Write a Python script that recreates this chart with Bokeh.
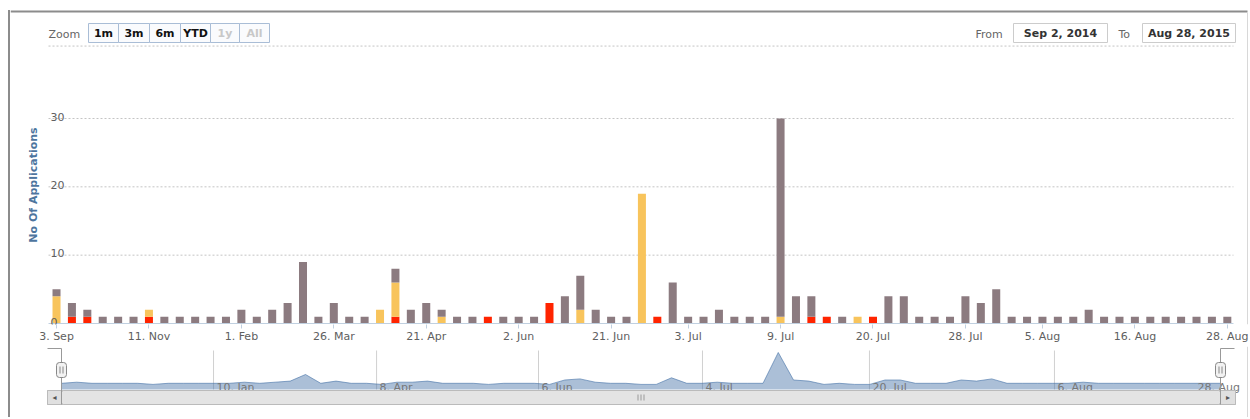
import math
from bokeh.plotting import figure
from bokeh.models import (ColumnDataSource, Range1d, FixedTicker, Label,
                          BoxAnnotation, Spacer, Div)
from bokeh.layouts import column, row
from bokeh.core.properties import value
from bokeh.embed import file_html
from bokeh.resources import INLINE

# ---------------- data ----------------
grey = [1, 2, 1, 1, 1, 1, 0, 1, 1, 1,
        1, 1, 2, 1, 2, 3, 9, 1, 3, 1,
        1, 0, 2, 2, 3, 1, 1, 1, 0, 1,
        1, 1, 0, 4, 5, 2, 1, 1, 0, 0,
        6, 1, 1, 2, 1, 1, 1, 29, 4, 3,
        0, 1, 0, 0, 4, 4, 1, 1, 1, 4,
        3, 5, 1, 1, 1, 1, 1, 2, 1, 1,
        1, 1, 1, 1, 1, 1, 1]
orange = [4, 0, 0, 0, 0, 0, 1, 0, 0, 0,
          0, 0, 0, 0, 0, 0, 0, 0, 0, 0,
          0, 2, 5, 0, 0, 1, 0, 0, 0, 0,
          0, 0, 0, 0, 2, 0, 0, 0, 19, 0,
          0, 0, 0, 0, 0, 0, 0, 1, 0, 0,
          0, 0, 1, 0, 0, 0, 0, 0, 0, 0,
          0, 0, 0, 0, 0, 0, 0, 0, 0, 0,
          0, 0, 0, 0, 0, 0, 0]
red = [0, 1, 1, 0, 0, 0, 1, 0, 0, 0,
       0, 0, 0, 0, 0, 0, 0, 0, 0, 0,
       0, 0, 1, 0, 0, 0, 0, 0, 1, 0,
       0, 0, 3, 0, 0, 0, 0, 0, 0, 1,
       0, 0, 0, 0, 0, 0, 0, 0, 0, 1,
       1, 0, 0, 1, 0, 0, 0, 0, 0, 0,
       0, 0, 0, 0, 0, 0, 0, 0, 0, 0,
       0, 0, 0, 0, 0, 0, 0]

x_tick_pos = [0, 6, 12, 18, 24, 30, 36, 41, 47, 53, 59, 64, 70, 76]
x_tick_labels = ["3. Sep", "11. Nov", "1. Feb", "26. Mar", "21. Apr", "2. Jun",
                 "21. Jun", "3. Jul", "9. Jul", "20. Jul", "28. Jul", "5. Aug",
                 "16. Aug", "28. Aug"]
y_ticks = [0, 10, 20, 30]
y_grid = [10, 20, 30]
y_title = "No Of Applications"

nav_tick_pos = [9.97, 20.66, 31.28, 42.03, 52.98, 65.11, 74.3]
nav_tick_labels = ["10. Jan", "8. Apr", "6. Jun", "4. Jul", "20. Jul", "6. Aug", "28. Aug"]
nav_grid_pos = nav_tick_pos[:6]

zoom_buttons = ["1m", "3m", "6m", "YTD", "1y", "All"]
zoom_enabled = [True, True, True, True, False, False]
date_from = "Sep 2, 2014"
date_to = "Aug 28, 2015"

# ---------------- styles / geometry ----------------
FONT = "DejaVu Sans"
GREY = "#8c7b80"
ORANGE = "#f8c45c"
RED = "#ff2400"
GRID = "#c4c4c4"
AXIS = "#c0d0e0"
LABEL = "#606060"
BORDER = "#8c8c8c"
FAINT = "#d8d8d8"

W = 1239                      # content width (page x 10 .. 1249)
# main chart: plot area spans page x 48..1233, value 0 at page y 323
X0, X1 = -2.987, 77.44        # full frame range (page x 10 .. 1249)
X_PLOT_MIN, X_PLOT_MAX = -0.52, 76.4
Y0, Y1 = -0.146, 47.27        # frame page y 324 .. 0
Y_TOP_LINE = 40.6
# navigator: index 0 at page x 61, 76 at page x 1220
NAV_X0, NAV_X1 = -3.344, 77.90
NAV_Y0, NAV_Y1 = -30.09, 34.45
NAV_BASE, NAV_TOP = -4.64, 30.8

n = len(grey)
src = ColumnDataSource(dict(x=list(range(n)), grey=grey, orange=orange, red=red))


def sbox(fig, l, r, t, b, fill=None, line=None, lw=1, radius=0):
    fig.add_layout(BoxAnnotation(
        left=l, right=r, top=t, bottom=b,
        left_units="screen", right_units="screen",
        top_units="screen", bottom_units="screen",
        fill_color=fill, fill_alpha=1.0 if fill else 0.0,
        line_color=line, line_alpha=1.0 if line else 0.0, line_width=lw,
        border_radius=radius, level="overlay"))


def slabel(fig, x, y, text, color=LABEL, size="11px", align="left",
           style="normal", angle=0.0):
    fig.add_layout(Label(x=x, y=y, x_units="screen", y_units="screen", text=text,
                         text_font=FONT, text_font_size=size, text_color=color,
                         text_align=align, text_baseline="middle",
                         text_font_style=style, angle=angle, level="overlay"))


# ---------------- main chart ----------------
p = figure(width=W, height=346, output_backend="svg", toolbar_location=None,
           x_range=Range1d(X0, X1), y_range=Range1d(Y0, Y1),
           y_axis_location=None,
           min_border_left=0, min_border_right=0, min_border_top=0,
           min_border_bottom=22)
p.outline_line_color = None
p.background_fill_color = "white"
p.border_fill_color = "white"
p.xgrid.visible = False
p.ygrid.visible = False

# grid lines and axis line inside the plot area
p.segment(x0=X_PLOT_MIN, x1=X_PLOT_MAX, y0=y_grid, y1=y_grid,
          line_color=GRID, line_dash="2 2", line_width=1)
p.segment(x0=X_PLOT_MIN, x1=X_PLOT_MAX, y0=Y_TOP_LINE, y1=Y_TOP_LINE,
          line_color=GRID, line_dash="2 2", line_width=1)

p.vbar_stack(["red", "orange", "grey"], x="x", width=0.52, source=src,
             color=[RED, ORANGE, GREY], line_color=None)

p.segment(x0=X_PLOT_MIN, x1=X_PLOT_MAX, y0=0, y1=0, line_color=AXIS, line_width=1)

p.xaxis.ticker = FixedTicker(ticks=x_tick_pos)
p.xaxis.major_label_overrides = dict(zip(x_tick_pos, x_tick_labels))
p.xaxis.axis_line_color = None
p.xaxis.major_tick_line_color = AXIS
p.xaxis.major_tick_out = 4
p.xaxis.major_tick_in = 0
p.xaxis.minor_tick_line_color = None
p.xaxis.major_label_standoff = 1
p.xaxis.major_label_text_font = FONT
p.xaxis.major_label_text_font_size = "11px"
p.xaxis.major_label_text_color = LABEL

p.text(x=[X_PLOT_MIN] * len(y_ticks), y=y_ticks, text=[str(v) for v in y_ticks],
       text_align="left", text_baseline="alphabetic", x_offset=2, y_offset=-2,
       text_font=value(FONT), text_font_size="11px", text_color=LABEL)


def mx(x):          # page x -> main frame screen units
    return x - 10


def my(y):          # page y -> main frame screen units (upwards from bottom)
    return 324 - y


# y axis title
slabel(p, mx(33), my(184.5), y_title, color="#4d759e", align="center",
       style="bold", angle=math.pi / 2)

# chart border (top, right)
sbox(p, mx(10), mx(1247), my(10), my(12), fill=BORDER)
sbox(p, mx(1246.5), mx(1247.5), my(12), my(324), fill=FAINT)

# range selector
slabel(p, mx(48), my(33.5), "Zoom", color="#666666")
edges = [88, 118, 149, 180, 210, 239, 269]
for i, (name, on) in enumerate(zip(zoom_buttons, zoom_enabled)):
    sbox(p, mx(edges[i]), mx(edges[i + 1]), my(23), my(42), fill="#fafbfd",
         line="#a9bdd6")
    slabel(p, mx((edges[i] + edges[i + 1]) / 2), my(33), name,
           color="#111111" if on else "#c8c8c8", align="center", style="bold")

# date inputs
slabel(p, mx(975), my(33.5), "From", color="#666666")
sbox(p, mx(1013), mx(1107), my(23), my(42), fill="white", line="#cccccc")
slabel(p, mx(1060), my(33), date_from, color="#333333", align="center", style="bold")
slabel(p, mx(1118), my(33.5), "To", color="#666666")
sbox(p, mx(1142), mx(1235), my(23), my(42), fill="white", line="#cccccc")
slabel(p, mx(1188.5), my(33), date_to, color="#333333", align="center", style="bold")

# ---------------- navigator ----------------
nav = figure(width=W, height=71, output_backend="svg", toolbar_location=None,
             x_range=Range1d(NAV_X0, NAV_X1), y_range=Range1d(NAV_Y0, NAV_Y1),
             x_axis_type=None, y_axis_type=None,
             min_border_left=0, min_border_right=0, min_border_top=0,
             min_border_bottom=0)
nav.outline_line_color = None
nav.background_fill_color = "white"
nav.border_fill_color = "white"

nav.segment(x0=nav_grid_pos, x1=nav_grid_pos, y0=NAV_BASE, y1=NAV_TOP,
            line_color="#d0d0d0", line_width=1)
nav.varea(x="x", y1=NAV_BASE, y2="grey", source=src, fill_color="#4572A7",
          fill_alpha=0.45)
nav.line(x="x", y="grey", source=src, line_color="#4572A7", line_alpha=0.6,
         line_width=1)
nav.text(x=nav_tick_pos, y=[NAV_BASE] * len(nav_tick_pos), text=nav_tick_labels,
         text_align="left", text_baseline="alphabetic", x_offset=3, y_offset=-2,
         text_font=value(FONT), text_font_size="11px", text_color="#777777")


def nx(x):
    return x - 10


def ny(y):
    return 417 - y


sbox(nav, nx(1246.5), nx(1247.5), ny(346), ny(417), fill=FAINT)

# scrollbar
sbox(nav, nx(47), nx(1235), ny(390), ny(404), fill="#eeeeee", line="#bbbbbb")
sbox(nav, nx(61), nx(1220), ny(390), ny(404), fill="#e4e4e4", line="#bbbbbb",
     radius=2)
sbox(nav, nx(47), nx(61), ny(390), ny(404), fill="#e0e0e0", line="#bbbbbb")
sbox(nav, nx(1220), nx(1235), ny(390), ny(404), fill="#e0e0e0", line="#bbbbbb")
slabel(nav, nx(54), ny(397), "\u25c2", color="#555555", size="8px", align="center")
slabel(nav, nx(1227.5), ny(397), "\u25b8", color="#555555", size="8px", align="center")
for gx in (637, 640, 643):
    sbox(nav, nx(gx), nx(gx + 1), ny(394), ny(400), fill="#999999")

# navigator outline and handles
sbox(nav, nx(47), nx(61), ny(347.5), ny(348.5), fill="#999999")
sbox(nav, nx(60.5), nx(61.5), ny(348), ny(404), fill="#999999")
sbox(nav, nx(1219.5), nx(1220.5), ny(348), ny(404), fill="#999999")
sbox(nav, nx(1220), nx(1234), ny(347.5), ny(348.5), fill="#999999")
for hx in (61, 1220):
    sbox(nav, nx(hx - 5), nx(hx + 5), ny(362), ny(377), fill="#f2f2f2",
         line="#888888", radius=3)
    sbox(nav, nx(hx - 2), nx(hx - 1), ny(366), ny(373), fill="#888888")
    sbox(nav, nx(hx + 1), nx(hx + 2), ny(366), ny(373), fill="#888888")

# ---------------- page layout with left chart border strip ----------------
left_strip = column(Spacer(width=2, height=10),
                    Div(width=2, height=407, margin=0,
                        styles={"background-color": BORDER}))
layout = row(Spacer(width=8, height=417), left_strip, column(p, nav))

open("out.html", "w").write(file_html(layout, INLINE))
